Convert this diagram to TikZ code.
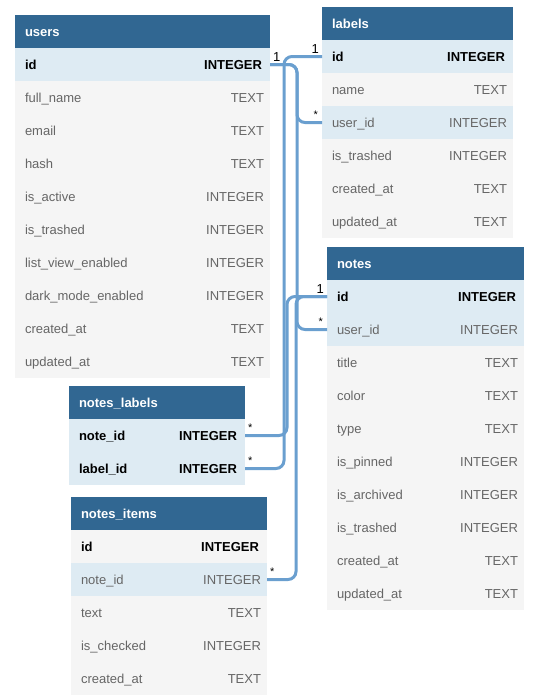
\documentclass[tikz,border=0pt]{standalone}
\usepackage{fontspec}
\setmainfont{Liberation Sans}
\usetikzlibrary{positioning}

\definecolor{hdrblue}{HTML}{316792}
\definecolor{keyblue}{HTML}{DEEBF3}
\definecolor{rowgrey}{HTML}{F5F5F5}
\definecolor{txtgrey}{HTML}{666666}
\definecolor{linkblue}{HTML}{6A9FCF}

% one field of a table: name on the left, type on the right
\newcommand{\fld}[3][6pt]{\hspace*{10pt}#2\hfill#3\hspace*{#1}}

\begin{document}
\begin{tikzpicture}[x=1pt, y=-1pt,
	hdr/.style={rectangle, anchor=north west, fill=hdrblue, text=white, font=\fontsize{13}{15}\bfseries, minimum height=33pt, inner xsep=0pt, inner ysep=0pt, outer sep=0pt, text height=12pt, text depth=2pt, align=left},
	row/.style={rectangle, fill=rowgrey, text=txtgrey, font=\fontsize{13}{15}\selectfont, minimum height=33pt, inner xsep=0pt, inner ysep=0pt, outer sep=0pt, text height=12pt, text depth=2pt, align=left},
	key/.style={row, fill=keyblue},
	pk/.style={text=black, font=\fontsize{13}{15}\bfseries},
	usersw/.style={text width=255pt},
	labelsw/.style={text width=191pt},
	notesw/.style={text width=197pt},
	nlw/.style={text width=176pt},
	niw/.style={text width=196pt},
	link/.style={draw=linkblue, line width=3pt, rounded corners=8pt},
	card/.style={inner sep=0pt, font=\fontsize{13}{15}\selectfont},
	many/.style={inner sep=0pt, font=\fontsize{11}{13}\selectfont}
	]
	\useasboundingbox (0,0) rectangle (536,697);

	% users
	\node (users) [hdr, usersw] at (15,15) {\hspace*{10pt}users};
		\node (users-id) [key, pk, usersw, below=0pt of users] {\fld[8pt]{id}{INTEGER}};
		\node (users-fn) [row, usersw, below=0pt of users-id] {\fld{full\_name}{TEXT}};
		\node (users-mail) [row, usersw, below=0pt of users-fn] {\fld{email}{TEXT}};
		\node (users-hash) [row, usersw, below=0pt of users-mail] {\fld{hash}{TEXT}};
		\node (users-act) [row, usersw, below=0pt of users-hash] {\fld{is\_active}{INTEGER}};
		\node (users-tr) [row, usersw, below=0pt of users-act] {\fld{is\_trashed}{INTEGER}};
		\node (users-lv) [row, usersw, below=0pt of users-tr] {\fld{list\_view\_enabled}{INTEGER}};
		\node (users-dm) [row, usersw, below=0pt of users-lv] {\fld{dark\_mode\_enabled}{INTEGER}};
		\node (users-ca) [row, usersw, below=0pt of users-dm] {\fld{created\_at}{TEXT}};
		\node (users-ua) [row, usersw, below=0pt of users-ca] {\fld{updated\_at}{TEXT}};

	% labels
	\node (labels) [hdr, labelsw] at (322,7) {\hspace*{10pt}labels};
		\node (labels-id) [key, pk, labelsw, below=0pt of labels] {\fld[8pt]{id}{INTEGER}};
		\node (labels-name) [row, labelsw, below=0pt of labels-id] {\fld{name}{TEXT}};
		\node (labels-uid) [key, labelsw, below=0pt of labels-name] {\fld{user\_id}{INTEGER}};
		\node (labels-tr) [row, labelsw, below=0pt of labels-uid] {\fld{is\_trashed}{INTEGER}};
		\node (labels-ca) [row, labelsw, below=0pt of labels-tr] {\fld{created\_at}{TEXT}};
		\node (labels-ua) [row, labelsw, below=0pt of labels-ca] {\fld{updated\_at}{TEXT}};

	% notes
	\node (notes) [hdr, notesw] at (327,247) {\hspace*{10pt}notes};
		\node (notes-id) [key, pk, notesw, below=0pt of notes] {\fld[8pt]{id}{INTEGER}};
		\node (notes-uid) [key, notesw, below=0pt of notes-id] {\fld{user\_id}{INTEGER}};
		\node (notes-title) [row, notesw, below=0pt of notes-uid] {\fld{title}{TEXT}};
		\node (notes-color) [row, notesw, below=0pt of notes-title] {\fld{color}{TEXT}};
		\node (notes-type) [row, notesw, below=0pt of notes-color] {\fld{type}{TEXT}};
		\node (notes-pin) [row, notesw, below=0pt of notes-type] {\fld{is\_pinned}{INTEGER}};
		\node (notes-arch) [row, notesw, below=0pt of notes-pin] {\fld{is\_archived}{INTEGER}};
		\node (notes-tr) [row, notesw, below=0pt of notes-arch] {\fld{is\_trashed}{INTEGER}};
		\node (notes-ca) [row, notesw, below=0pt of notes-tr] {\fld{created\_at}{TEXT}};
		\node (notes-ua) [row, notesw, below=0pt of notes-ca] {\fld{updated\_at}{TEXT}};

	% notes_labels
	\node (nl) [hdr, nlw] at (69,386) {\hspace*{10pt}notes\_labels};
		\node (nl-note) [key, pk, nlw, below=0pt of nl] {\fld[8pt]{note\_id}{INTEGER}};
		\node (nl-label) [key, pk, nlw, below=0pt of nl-note] {\fld[8pt]{label\_id}{INTEGER}};

	% notes_items
	\node (ni) [hdr, niw] at (71,497) {\hspace*{10pt}notes\_items};
		\node (ni-id) [row, pk, niw, below=0pt of ni] {\fld[8pt]{id}{INTEGER}};
		\node (ni-note) [key, niw, below=0pt of ni-id] {\fld{note\_id}{INTEGER}};
		\node (ni-text) [row, niw, below=0pt of ni-note] {\fld{text}{TEXT}};
		\node (ni-chk) [row, niw, below=0pt of ni-text] {\fld{is\_checked}{INTEGER}};
		\node (ni-ca) [row, niw, below=0pt of ni-chk] {\fld{created\_at}{TEXT}};

	% relations
	\draw [link] (users-id.east) -- ++(27,0) |- (labels-uid.west);
	\draw [link] (users-id.east) -- ++(27,0) |- (notes-uid.west);
	\draw [link] (nl-label.east) -- ++(39,0) |- (labels-id.west);
	\draw [link] (nl-note.east) -- ++(42,0) |- (notes-id.west);
	\draw [link] (ni-note.east) -- ++(29,0) |- (notes-id.west);

	\node (c-users) [card, anchor=south west] at ([shift={(3,-3)}]users-id.east) {1};
	\node (c-labels) [card, anchor=south east] at ([shift={(-3,-3)}]labels-id.west) {1};
	\node (c-labuid) [many, anchor=south east] at ([shift={(-4,-4)}]labels-uid.west) {*};
	\node (c-notes) [card, anchor=south east] at ([shift={(-3,-3)}]notes-id.west) {1};
	\node (c-notuid) [many, anchor=south east] at ([shift={(-4,-4)}]notes-uid.west) {*};
	\node (c-nlnote) [many, anchor=south west] at ([shift={(3,-4)}]nl-note.east) {*};
	\node (c-nllabel) [many, anchor=south west] at ([shift={(3,-4)}]nl-label.east) {*};
	\node (c-ninote) [many, anchor=south west] at ([shift={(3,-4)}]ni-note.east) {*};

\end{tikzpicture}
\end{document}
